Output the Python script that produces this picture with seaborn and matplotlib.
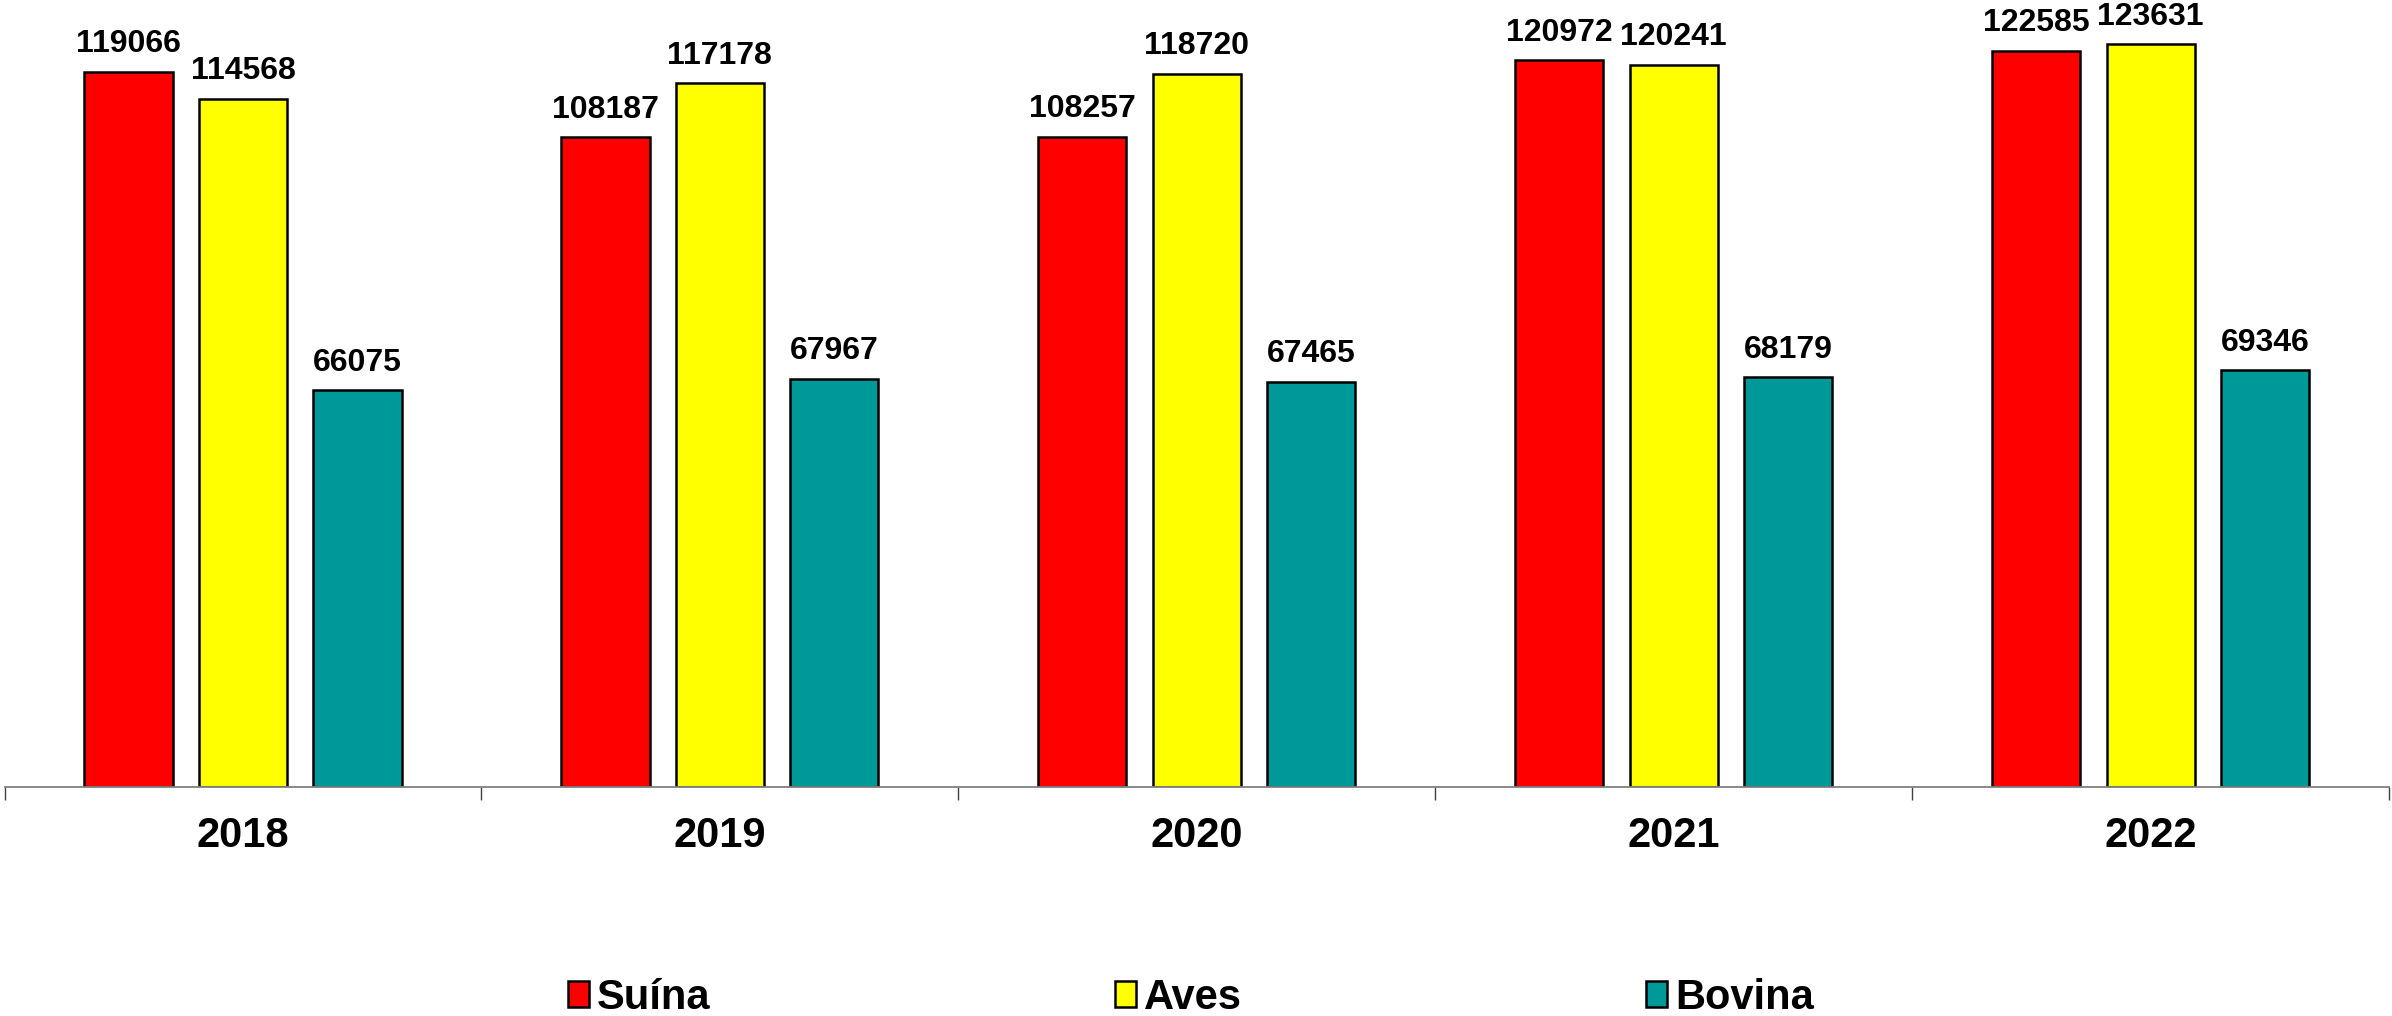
import matplotlib
matplotlib.use("Agg")
import matplotlib.pyplot as plt
import seaborn as sns
import pandas as pd
from matplotlib.ticker import FixedLocator

years = ["2018", "2019", "2020", "2021", "2022"]
series_names = ["Suína", "Aves", "Bovina"]
suina = [119066, 108187, 108257, 120972, 122585]
aves = [114568, 117178, 118720, 120241, 123631]
bovina = [66075, 67967, 67465, 68179, 69346]
colors = ["#FF0000", "#FFFF00", "#009999"]

rows = []
for name, vals in zip(series_names, [suina, aves, bovina]):
    for y, v in zip(years, vals):
        rows.append({"Ano": y, "Tipo": name, "Valor": v})
df = pd.DataFrame(rows)

sns.set_style("white")
plt.rcParams["font.family"] = ["Liberation Sans", "DejaVu Sans"]
plt.rcParams["font.weight"] = "bold"
plt.rcParams["text.color"] = "black"
plt.rcParams["xtick.color"] = "#404040"
plt.rcParams["xtick.labelcolor"] = "black"

fig = plt.figure(figsize=(23.92, 10.16), dpi=100)
ax = fig.add_axes([0.0019, 1 - 787 / 1016, 0.9969, 787 / 1016])

sns.barplot(data=df, x="Ano", y="Valor", hue="Tipo", order=years,
            hue_order=series_names, palette=colors, width=0.72, gap=0.23,
            edgecolor="black", linewidth=1.8, saturation=1, ax=ax)

for cont in ax.containers:
    ax.bar_label(cont, fmt="%d", padding=9, fontsize=23, fontweight="bold",
                 color="black")

ax.set_xlim(-0.5, 4.5)
ax.set_ylim(0, 131000)
ax.set_xlabel("")
ax.set_ylabel("")
ax.set_yticks([])
for s in ["left", "right", "top"]:
    ax.spines[s].set_visible(False)
ax.spines["bottom"].set_color("#808080")
ax.spines["bottom"].set_linewidth(1.3)

ax.tick_params(axis="x", which="major", bottom=False, length=0, pad=21,
               labelsize=30, labelcolor="black")
for lab in ax.get_xticklabels():
    lab.set_fontweight("bold")
ax.xaxis.set_minor_locator(FixedLocator([-0.5, 0.5, 1.5, 2.5, 3.5, 4.5]))
ax.tick_params(axis="x", which="minor", bottom=True, length=9, width=1.0,
               color="#404040", direction="out")

handles, labels = ax.get_legend_handles_labels()
leg = ax.legend(handles, labels, loc="center", bbox_to_anchor=(0.498, 0.018),
                bbox_transform=fig.transFigure, ncol=3, frameon=False,
                prop={"size": 30, "weight": "bold"}, handlelength=0.5,
                handleheight=0.55, handletextpad=0.2, columnspacing=9.7)
for t in leg.get_texts():
    t.set_color("black")

fig.savefig("out.png", dpi=100, facecolor="white")
